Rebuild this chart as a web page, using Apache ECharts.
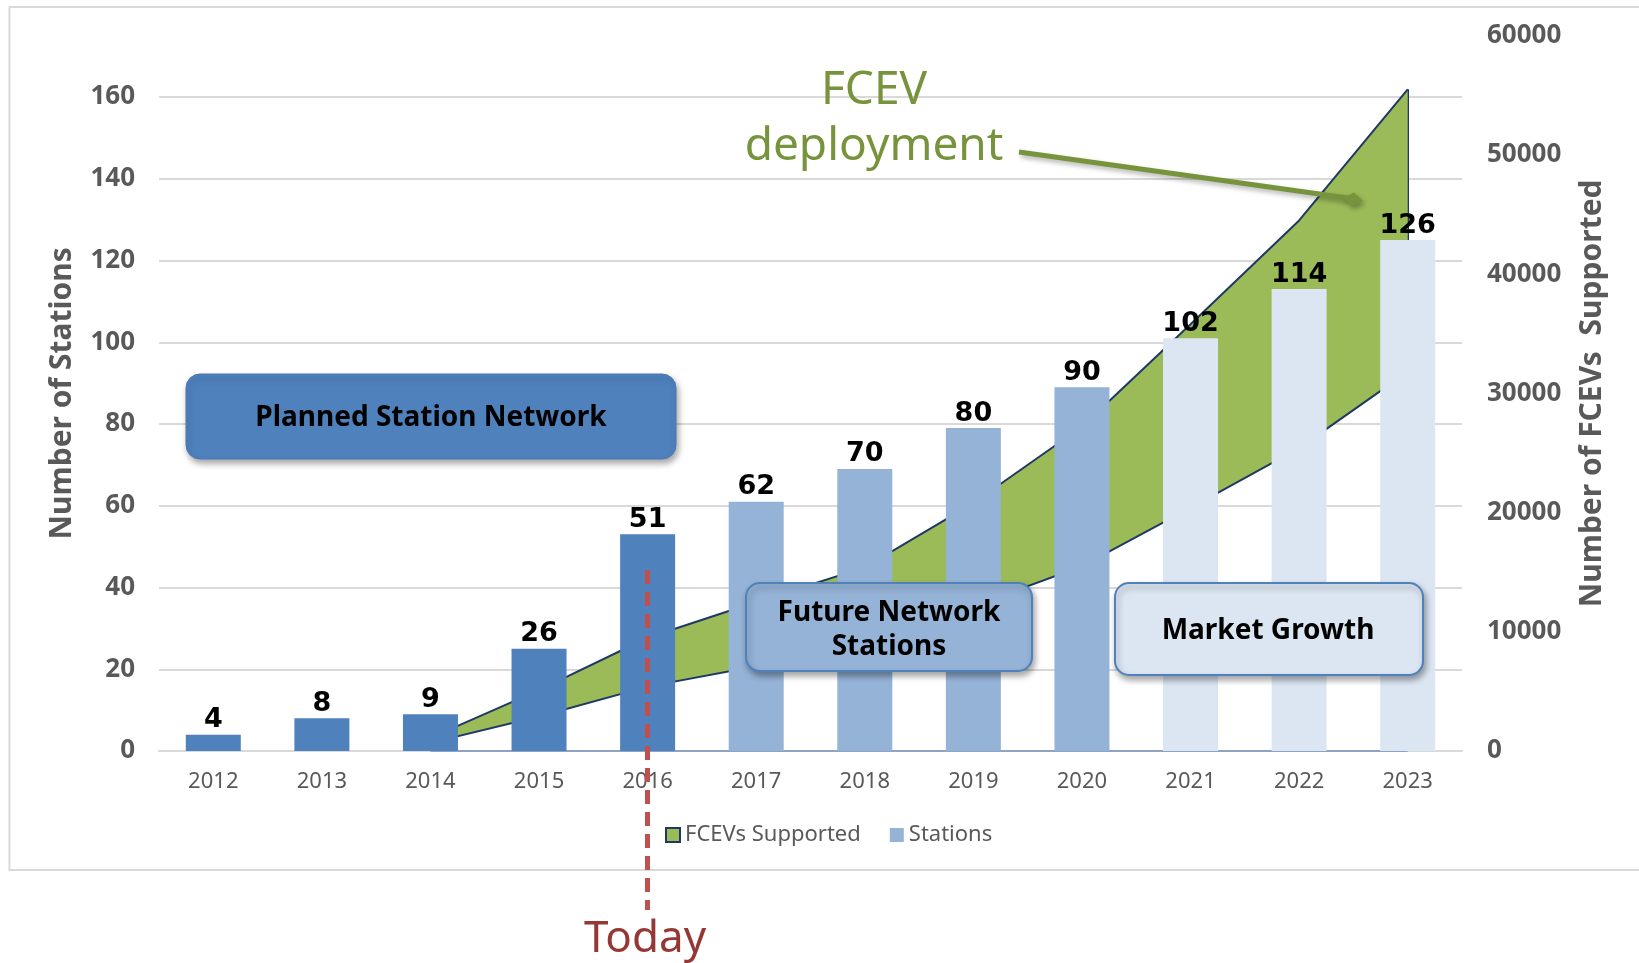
<!DOCTYPE html>
<html>
<head>
<meta charset="utf-8">
<title>FCEV deployment and station network</title>
<script src="https://cdn.jsdelivr.net/npm/echarts@6/dist/echarts.min.js"></script>
<style>
    html, body { margin: 0; padding: 0; background: #ffffff; }
    #chart { width: 1639px; height: 963px; }
</style>
</head>
<body>
<div id="chart"></div>
<script>
// years on the x axis
var categories = ['2012', '2013', '2014', '2015', '2016', '2017', '2018', '2019', '2020', '2021', '2022', '2023'];

// bar heights as drawn, and the numbers printed above them
var stationValues = [4, 8, 9, 25, 53, 61, 69, 79, 89, 101, 113, 125];
var stationLabels = [4, 8, 9, 26, 51, 62, 70, 80, 90, 102, 114, 126];
// which phase each bar belongs to (picks the shade)
var stationPhase = ['planned', 'planned', 'planned', 'planned', 'planned',
    'future', 'future', 'future', 'future', 'market', 'market', 'market'];

// FCEVs supported: lower and upper edge of the green band
var fcevLow = ['-', '-', 680, 2900, 5400, 7100, 9500, 12150, 15500, 20400, 25400, 31800];
var fcevHigh = ['-', '-', 1100, 5100, 9500, 12500, 15400, 20800, 27200, 35800, 44500, 55500];

// axis ranges
var stationAxisMax = 175;
var stationAxisStep = 20;
var fcevAxisMax = 60000;
var fcevAxisStep = 10000;

var phaseColor = { planned: '#4F81BD', future: '#95B3D7', market: '#DCE6F2' };
var navy = '#1F3864';
var green = '#9BBB59';
var grey = '#595959';

function bandData() {
    var out = [];
    for (var i = 0; i < fcevHigh.length; i++) {
        if (fcevHigh[i] === '-' || fcevLow[i] === '-') {
            out.push('-');
        } else {
            out.push(fcevHigh[i] - fcevLow[i]);
        }
    }
    return out;
}

function barData() {
    return stationValues.map(function (v, i) {
        return { value: v, itemStyle: { color: phaseColor[stationPhase[i]] } };
    });
}

var last = categories.length - 1;
var firstBand = fcevLow.findIndex(function (v) { return v !== '-'; });

var dom = document.getElementById('chart');
var myChart = echarts.init(dom, null, { renderer: 'canvas' });

var boxShadow = { shadowBlur: 6, shadowOffsetX: 2, shadowOffsetY: 4, shadowColor: 'rgba(0,0,0,0.35)' };

var option = {
    backgroundColor: '#ffffff',
    animation: false,
    grid: { left: 159, right: 177, top: 35.7, bottom: 212, containLabel: false },
    legend: {
        left: 660,
        top: 819,
        itemWidth: 14,
        itemHeight: 14,
        itemGap: 29,
        textStyle: { fontFamily: 'Noto Sans', fontSize: 22, color: grey },
        data: [
            { name: 'FCEVs Supported', icon: 'rect', itemStyle: { color: green, borderColor: navy, borderWidth: 2 } },
            { name: 'Stations', icon: 'rect', itemStyle: { color: '#95B3D7' } }
        ]
    },
    xAxis: {
        type: 'category',
        data: categories,
        axisTick: { show: false },
        axisLine: { lineStyle: { color: '#D9D9D9', width: 2 } },
        axisLabel: { fontFamily: 'Noto Sans', fontSize: 22, color: grey, margin: 20 }
    },
    yAxis: [
        {
            type: 'value',
            min: 0,
            max: stationAxisMax,
            interval: stationAxisStep,
            name: 'Number of Stations',
            nameLocation: 'middle',
            nameRotate: 90,
            nameGap: 82,
            nameTextStyle: { fontFamily: 'Noto Sans', fontSize: 30, fontWeight: 'bold', color: grey },
            axisLine: { show: false },
            axisTick: { show: false },
            axisLabel: { fontFamily: 'Noto Sans', fontSize: 26, fontWeight: 'bold', color: grey, margin: 24, showMaxLabel: false },
            splitLine: { show: true, showMaxLine: false, lineStyle: { color: '#D9D9D9', width: 2 } }
        },
        {
            type: 'value',
            min: 0,
            max: fcevAxisMax,
            interval: fcevAxisStep,
            name: 'Number of FCEVs  Supported',
            nameLocation: 'middle',
            nameRotate: 90,
            nameGap: 115,
            nameTextStyle: { fontFamily: 'Noto Sans', fontSize: 30, fontWeight: 'bold', color: grey },
            axisLine: { show: false },
            axisTick: { show: false },
            axisLabel: {
                fontFamily: 'Noto Sans', fontSize: 26, fontWeight: 'bold', color: grey, margin: 25,
                formatter: function (v) { return String(v); }
            },
            splitLine: { show: false }
        }
    ],
    series: [
        {
            name: 'fcevBase',
            type: 'line',
            yAxisIndex: 1,
            stack: 'fcev',
            data: fcevLow,
            symbol: 'none',
            z: 1,
            lineStyle: { color: navy, width: 2 },
            markLine: {
                silent: true,
                z: 1,
                symbol: 'none',
                label: { show: false },
                lineStyle: { color: '#8FA3C4', width: 2, type: 'solid' },
                data: [[{ coord: [categories[firstBand], 0] }, { coord: [categories[last], 0] }]]
            }
        },
        {
            name: 'FCEVs Supported',
            type: 'line',
            yAxisIndex: 1,
            stack: 'fcev',
            data: bandData(),
            symbol: 'none',
            z: 1,
            lineStyle: { color: navy, width: 2 },
            areaStyle: { color: green, opacity: 1 },
            markLine: {
                silent: true,
                z: 1,
                symbol: 'none',
                label: { show: false },
                lineStyle: { color: navy, width: 2, type: 'solid' },
                data: [[{ coord: [categories[last], fcevLow[last]] }, { coord: [categories[last], fcevHigh[last]] }]]
            }
        },
        {
            name: 'Stations',
            type: 'bar',
            yAxisIndex: 0,
            barWidth: 55,
            z: 2,
            itemStyle: { color: '#95B3D7' },
            data: barData(),
            label: {
                show: true,
                position: 'top',
                distance: 1,
                fontFamily: 'DejaVu Sans',
                fontWeight: 'bold',
                fontSize: 27,
                color: '#000000',
                formatter: function (p) {
                    return String(stationLabels[p.dataIndex]);
                }
            }
        }
    ],
    graphic: [
        // outer frame
        {
            type: 'rect', z: 0, silent: true,
            shape: { x: 9.5, y: 7, width: 1700, height: 863 },
            style: { fill: 'none', stroke: '#D9D9D9', lineWidth: 2 }
        },
        // phase boxes
        {
            type: 'rect', z: 50,
            shape: { x: 186, y: 374, width: 490, height: 85, r: 14 },
            style: Object.assign({ fill: '#4F81BD', stroke: '#4A7AB5', lineWidth: 1 }, boxShadow)
        },
        {
            type: 'text', z: 51,
            style: { text: 'Planned Station Network', x: 431, y: 418, textAlign: 'center', textVerticalAlign: 'middle',
                font: 'bold 28px "Noto Sans"', fill: '#000000' }
        },
        {
            type: 'rect', z: 50,
            shape: { x: 746, y: 583, width: 286, height: 88, r: 14 },
            style: Object.assign({ fill: '#95B3D7', stroke: '#4F81BD', lineWidth: 2 }, boxShadow)
        },
        {
            type: 'text', z: 51,
            style: { text: 'Future Network\nStations', x: 889, y: 630, textAlign: 'center', textVerticalAlign: 'middle',
                font: 'bold 28px "Noto Sans"', lineHeight: 34, fill: '#000000' }
        },
        {
            type: 'rect', z: 50,
            shape: { x: 1115, y: 583, width: 308, height: 92, r: 14 },
            style: Object.assign({ fill: '#DCE6F2', stroke: '#4F81BD', lineWidth: 2 }, boxShadow)
        },
        {
            type: 'text', z: 51,
            style: { text: 'Market Growth', x: 1268, y: 631, textAlign: 'center', textVerticalAlign: 'middle',
                font: 'bold 28px "Noto Sans"', fill: '#000000' }
        },
        // FCEV deployment callout
        {
            type: 'text', z: 51,
            style: { text: 'FCEV\ndeployment', x: 874, y: 119, textAlign: 'center', textVerticalAlign: 'middle',
                font: '46px "Noto Sans"', lineHeight: 56, fill: '#77933C' }
        },
        {
            type: 'line', z: 51,
            shape: { x1: 1019, y1: 152, x2: 1348, y2: 198 },
            style: { stroke: '#77933C', lineWidth: 5, shadowBlur: 5, shadowOffsetX: 2, shadowOffsetY: 3, shadowColor: 'rgba(0,0,0,0.3)' }
        },
        {
            type: 'polygon', z: 51,
            shape: { points: [[1363, 201], [1352, 206.4], [1343, 198], [1354, 192.6]] },
            style: { fill: '#77933C', shadowBlur: 5, shadowOffsetX: 2, shadowOffsetY: 3, shadowColor: 'rgba(0,0,0,0.3)' }
        },
        // today marker
        {
            type: 'line', z: 52,
            shape: { x1: 647.5, y1: 570, x2: 647.5, y2: 910 },
            style: { stroke: '#C0504D', lineWidth: 5, lineDash: [14, 8] }
        },
        {
            type: 'text', z: 52,
            style: { text: 'Today', x: 645, y: 961, textAlign: 'center', textVerticalAlign: 'bottom',
                font: '44px "Noto Sans"', fill: '#953735' }
        }
    ]
};

if (option && typeof option === 'object') {
    myChart.setOption(option, true);
    window.onresize = function () {
        myChart.resize();
    };
}
</script>
</body>
</html>
